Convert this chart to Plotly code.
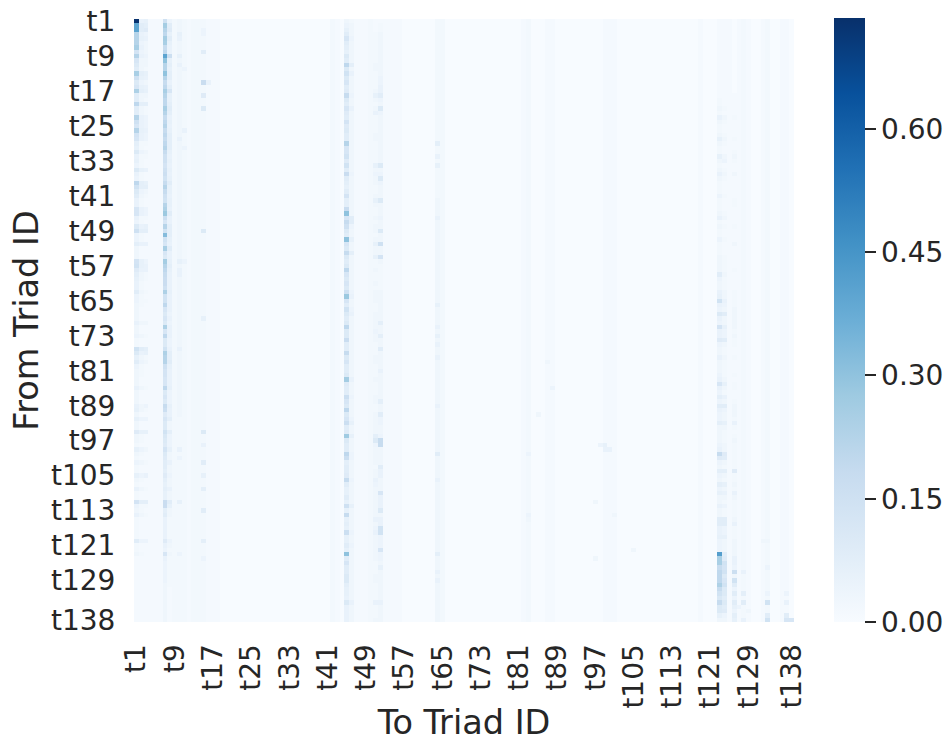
import numpy as np
import plotly.graph_objects as go

n = 138
ids = [f"t{i}" for i in range(1, n + 1)]
positions = list(range(n))
tick_idx = list(range(0, 129, 8)) + [137]
tick_text = [ids[i] for i in tick_idx]
z_max = 0.735
blues = ["#f7fbff", "#deebf7", "#c6dbef", "#9ecae1", "#6baed6", "#4292c6", "#2171b5", "#08519c", "#08306b"]

# values in hundredths, one entry per "from" triad
c0 = [73,40,40,22,22,22,25,13,22,12, 10,8,25,15,10,12,24,8,8,20, 8,8,22,15,12,22,13,12,7,6,
      10,5,6,4,10,5,4,20,14,10, 8,5,5,12,12,5,4,10,15,4, 4,7,3,3,3,13,14,9,7,6,
      5,5,8,4,4,3,3,3,3,5, 3,3,4,2,2,14,10,6,8,4, 3,3,3,3,5,3,3,3,5,6,
      3,6,3,3,9,3,3,2,6,3, 2,4,2,2,6,3,2,5,2,2, 13,4,3,5,2,2,2,2,2,8,
      2,2,3,1,1,1,1,1,1,1, 1,1,1,1,1,1,1,1]
c1 = [5,8,8,5,6,4,5,4,5,3, 3,3,7,6,4,6,7,3,3,7, 3,3,5,5,5,6,5,5,2,2,
      4,2,2,2,6,2,2,7,7,4, 3,2,2,5,5,2,2,5,7,2, 2,5,1,1,1,6,6,5,3,3,
      2,2,3,2,2,2,1,1,1,3, 1,1,3,1,1,8,5,3,4,2, 2,2,1,1,3,1,1,1,3,3,
      1,4,1,1,6,2,2,1,4,2, 1,3,1,1,4,2,1,3,1,1, 7,2,2,3,1,1,1,1,1,4,
      1,1,2,1,1,1,1,1,1,1, 1,1,1,1,1,1,1,1]
c2 = [6,7,9,4,5,3,3,3,4,3, 3,2,6,5,3,5,6,3,2,7, 2,2,4,4,4,5,4,4,2,1,
      3,2,1,1,5,1,1,6,7,3, 2,1,1,4,4,2,1,6,7,1, 1,5,1,1,1,4,5,5,2,2,
      1,1,2,1,2,1,1,1,1,3, 1,1,2,1,1,7,6,2,3,1, 1,1,1,1,2,1,1,1,4,2,
      1,4,1,1,6,1,1,1,3,1, 1,2,1,1,5,1,1,2,1,1, 7,2,1,2,1,1,1,1,1,4,
      1,1,1,1,1,1,1,1,1,1, 1,1,1,1,1,1,1,1]
c6 = [15,26,22,20,26,25,18,20,40,30, 22,22,30,22,18,20,25,22,20,20, 25,22,18,20,22,18,20,18,20,22,
      18,15,15,13,15,16,14,18,22,18, 15,14,22,24,28,16,12,22,14,32, 14,12,25,12,10,26,22,20,18,17,
      17,15,24,14,14,20,12,10,12,10, 24,12,20,10,10,14,24,22,22,15, 13,13,12,12,20,10,12,10,18,16,
      9,12,10,10,14,11,10,9,13,10, 9,8,8,7,9,7,6,7,6,6, 17,17,7,8,5,5,5,5,5,9,
      5,4,12,5,4,4,4,4,4,3, 3,3,3,3,3,3,3,3]
c7 = [4,8,9,6,8,6,5,5,15,6, 7,6,7,7,5,7,12,6,6,7, 8,7,5,6,5,6,7,7,7,7,
      6,5,6,5,6,5,6,8,6,6, 5,6,6,5,8,5,5,7,7,7, 6,5,8,5,5,6,7,6,5,5,
      5,5,6,5,5,5,5,4,5,4, 5,5,5,4,4,5,7,7,8,6, 5,5,5,5,6,4,4,4,6,5,
      5,7,3,3,7,4,4,4,6,3, 3,5,3,3,4,3,3,5,3,3, 8,6,3,3,2,2,2,2,2,4,
      3,2,3,2,2,2,2,2,2,2, 1,1,1,1,1,1,1,1]
c44 = [3,4,6,8,12,8,7,6,10,8, 20,10,14,10,12,8,9,18,10,8, 12,9,8,13,9,10,8,8,22,12,
       12,14,9,14,8,17,8,7,6,8, 13,7,7,17,30,12,18,15,10,8, 30,12,10,18,10,8,10,20,12,10,
       12,10,15,28,12,8,14,10,8,10, 20,10,10,17,8,8,18,10,12,8, 8,10,26,9,8,8,16,12,10,20,
       10,12,16,8,9,27,10,8,8,20, 16,7,8,8,9,18,8,6,6,8, 6,15,6,18,6,7,6,16,6,6,
       8,6,30,8,12,8,8,10,10,7, 6,6,5,10,5,5,5,5]
c45 = [2,3,3,3,4,3,3,3,3,3, 7,3,5,3,3,3,3,4,3,3, 5,3,3,3,3,3,3,3,3,3,
       3,3,3,3,3,4,3,3,3,3, 3,3,3,3,3,8,8,4,3,3, 6,3,3,7,3,3,3,3,3,3,
       3,3,4,5,3,3,4,5,3,3, 3,3,3,3,3,3,3,3,3,3, 3,3,5,3,3,3,4,3,3,3,
       3,4,6,3,3,6,3,3,3,4, 4,3,3,3,3,4,3,3,3,3, 3,6,3,3,3,3,3,4,3,3,
       4,3,3,3,3,3,3,3,3,3, 3,3,3,5,3,3,3,3]
c51 = [1,2,2,3,3,3,3,3,3,3, 3,3,3,4,4,5,5,8,4,3, 10,4,3,3,3,3,3,3,3,3,
       3,3,3,10,3,4,10,4,3,3, 3,10,3,3,3,4,3,3,10,3, 3,15,3,3,13,3,2,2,2,2,
       2,2,3,3,3,3,3,3,3,7, 3,3,7,3,3,8,3,3,3,3, 5,3,3,3,3,3,3,7,3,3,
       8,4,4,3,3,4,18,18,3,3, 3,3,8,5,5,3,3,3,12,5, 5,5,10,3,5,5,14,14,4,4,
       4,12,4,4,3,6,3,3,3,3, 3,3,3,5,3,3,3,3]
c50 = [1,1,1,2,2,2,2,2,2,2, 3,3,2,2,2,2,3,6,3,2, 3,5,2,2,2,2,3,3,2,2,
       2,2,2,6,3,4,3,3,2,2, 3,6,3,2,2,3,2,3,3,2, 3,6,3,3,6,2,2,3,2,2,
       3,2,3,3,3,2,2,3,3,3, 3,4,3,3,2,2,2,3,3,2, 2,2,3,2,2,2,3,3,2,2,
       3,3,3,3,3,7,10,4,3,3, 3,3,2,3,3,5,4,3,3,3, 3,3,3,3,5,3,4,5,3,3,
       3,3,3,3,2,2,2,3,3,2, 2,2,2,5,2,2,2,3]
c122 = [1,1,1,1,1,1,1,1,1,1, 1,1,1,1,1,1,1,1,2,2, 3,2,5,3,2,2,3,6,3,2, 2,6,3,2,3,5,3,2,2,2,
        4,2,2,2,3,5,2,3,2,2, 4,2,2,2,3,3,3,3,8,4, 3,3,5,6,14,5,4,10,5,4, 13,5,5,9,4,3,3,5,3,3,
        3,4,5,12,5,4,7,4,8,5, 4,4,7,3,3,3,3,4,5,18, 9,4,3,7,4,3,7,4,6,3, 3,5,3,3,8,8,5,5,6,4,
        4,4,42,25,25,18,20,20,20,24, 18,14,11,18,10,10,6,3]
c123 = [1,1,1,1,1,1,1,1,1,1, 1,1,1,1,1,1,1,1,1,1, 2,1,3,2,1,1,2,3,2,1, 1,3,4,1,2,3,2,1,1,1,
        2,1,1,1,2,3,1,2,1,1, 2,1,1,1,2,2,2,2,3,2, 2,2,3,3,5,4,3,8,3,3, 6,4,4,8,3,2,2,3,2,2,
        2,2,3,6,3,2,5,3,8,4, 3,3,6,3,2,2,2,3,3,9, 8,3,2,7,3,2,6,3,5,3, 2,4,2,2,8,8,4,4,6,3,
        3,3,8,9,14,13,14,10,12,14, 10,10,8,10,8,9,4,3]
c125 = [0,0,0,0,0,0,0,0,0,0, 0,0,0,0,0,0,0,1,1,1, 1,1,2,1,1,1,1,2,1,1, 2,3,2,1,1,3,1,1,1,1,
        1,2,2,1,1,1,1,2,1,1, 1,3,1,1,1,1,1,2,1,1, 1,1,2,2,2,2,3,3,3,3, 3,2,3,2,2,1,1,2,1,1,
        1,2,1,2,2,1,1,2,3,3, 3,2,5,2,1,2,3,2,2,2, 2,2,2,9,2,2,3,2,5,3, 2,2,2,2,3,5,2,2,2,3,
        3,3,3,5,5,4,16,3,14,8, 4,8,4,8,5,4,7,6]

# faint columns: (column, first row, last row, hundredths)
tint_bands = [(3,0,137,1),(4,0,137,1),(5,0,137,1),(8,0,137,2),(9,0,90,3),(9,91,137,2),(10,0,137,2),
              (11,0,137,1),(12,0,137,2),(13,0,137,2),(14,0,137,2),(15,0,137,1),(16,0,137,1),(17,0,137,1),
              (41,0,137,2),(42,0,137,1),(46,0,137,1),(47,0,137,1),(48,0,137,1),(49,0,137,2),
              (52,0,137,1),(53,0,137,1),(54,0,137,1),(55,0,137,1),(63,0,40,2),(63,41,137,3),(64,0,137,2),
              (82,0,137,2),(81,0,137,1),(86,0,137,1),(87,0,137,1),(98,0,137,1),(99,0,137,1),
              (100,0,137,1),(118,0,137,1),(124,0,137,1),(126,0,137,1),(127,0,137,2),(128,0,137,1),
              (131,0,137,1),(132,0,137,2),(135,0,137,1),(136,0,137,1)]

# isolated stronger cells: (row, column, hundredths)
hot_cells = [(8,7,16),(14,14,17),(17,14,9),(20,14,10),(7,14,8),(3,14,4),(2,14,4),(48,14,10),(68,14,6),(94,14,10),
             (97,14,5),(101,14,8),(104,14,6),(107,14,7),(112,14,8),(119,14,7),(123,14,4),(14,15,5),
             (3,9,6),(4,9,5),(8,9,6),(10,9,5),(27,9,5),(55,9,6),(57,9,5),(58,9,5),(75,9,5),(98,9,5),(100,9,4),
             (110,9,6),(122,9,4),(55,10,4),(11,10,4),
             (25,10,5),(29,10,4),(65,63,6),(70,63,5),(74,63,5),(77,63,5),(45,63,5),(33,63,6),(28,63,7),(31,63,5),
             (72,63,6),(99,63,8),(105,63,5),(122,63,7),(126,63,5),(128,63,5),(88,63,5),
             (99,82,4),(97,97,4),(97,98,6),(98,99,5),(98,98,5),(90,84,3),(78,86,3),(84,87,4),
             (110,96,3),(113,100,3),(113,82,4),(114,82,3),(123,96,3),(121,104,3),
             (126,127,5),(131,127,7),(133,127,8),(137,127,5),(135,128,3),(133,132,14),(137,132,14),(136,132,8),
             (131,132,4),(125,132,4),(119,131,3),(119,132,3),(131,136,4),(133,136,5),(136,136,8),(137,136,12),(137,137,12),
             (134,125,6),(137,125,6),(134,126,4)]

z = np.zeros((n, n))
for col, first, last, hundredths in tint_bands:
    z[first:last + 1, col] = hundredths / 100
for col, values in {0: c0, 1: c1, 2: c2, 6: c6, 7: c7, 44: c44, 45: c45, 50: c50, 51: c51,
                    122: c122, 123: c123, 125: c125}.items():
    z[:, col] = np.array(values) / 100
for row, col, hundredths in hot_cells:
    z[row, col] = hundredths / 100

text_color = "#262626"
tick_font = dict(family="DejaVu Sans", size=28, color=text_color)
title_font = dict(family="DejaVu Sans", size=33.5, color=text_color)
label_shift = 5  # px the x labels sit left of the cell centres
plot_w = 660.5
span = [-0.5, n - 0.5]

fig = go.Figure(go.Heatmap(
    z=z, x=positions, y=positions, zmin=0, zmax=z_max, zsmooth=False,
    colorscale=[[i / 8, c] for i, c in enumerate(blues)],
    colorbar=dict(
        x=(835 - 134 + label_shift) / (plot_w + label_shift), xanchor="left", xpad=0,
        y=0, yanchor="bottom", ypad=0, len=604, lenmode="pixels",
        thickness=31, thicknessmode="pixels", outlinewidth=0,
        tickmode="array", tickvals=[0, 0.15, 0.30, 0.45, 0.60], ticktext=["0.00", "0.15", "0.30", "0.45", "0.60"],
        ticks="outside", ticklen=11, tickwidth=2, tickcolor=text_color, tickfont=tick_font,
    ),
))
fig.add_trace(go.Scatter(x=[0], y=[0], xaxis="x2", yaxis="y", mode="markers", marker=dict(opacity=0), showlegend=False, hoverinfo="skip"))
fig.update_layout(
    width=949, height=742, autosize=False, paper_bgcolor="white", plot_bgcolor="white",
    margin=dict(l=134 - label_shift, r=154.5, t=19, b=119.5, autoexpand=False), font=tick_font, showlegend=False,
    xaxis=dict(domain=[label_shift / (plot_w + label_shift), 1], range=span, showticklabels=False, ticks="",
               showgrid=False, zeroline=False, showline=False, automargin=False,
               title=dict(text="To Triad ID", font=title_font, standoff=94)),
    xaxis2=dict(domain=[0, plot_w / (plot_w + label_shift)], anchor="y", overlaying="x", side="bottom", range=span,
                tickmode="array", tickvals=tick_idx, ticktext=tick_text, tickangle=-90, ticks="outside", ticklen=10,
                tickcolor="rgba(255,255,255,0)", showgrid=False, zeroline=False, showline=False, tickfont=tick_font,
                automargin=False),
    yaxis=dict(range=span[::-1], tickmode="array", tickvals=tick_idx, ticktext=tick_text, ticks="outside",
               ticklen=12, tickcolor="white", showgrid=False, zeroline=False, showline=False, tickfont=tick_font,
               automargin=False, title=dict(text="From Triad ID", font=title_font, standoff=2)),
)
fig.write_html("out.html", config=dict(displayModeBar=False), post_script="document.body.style.margin='0';")
